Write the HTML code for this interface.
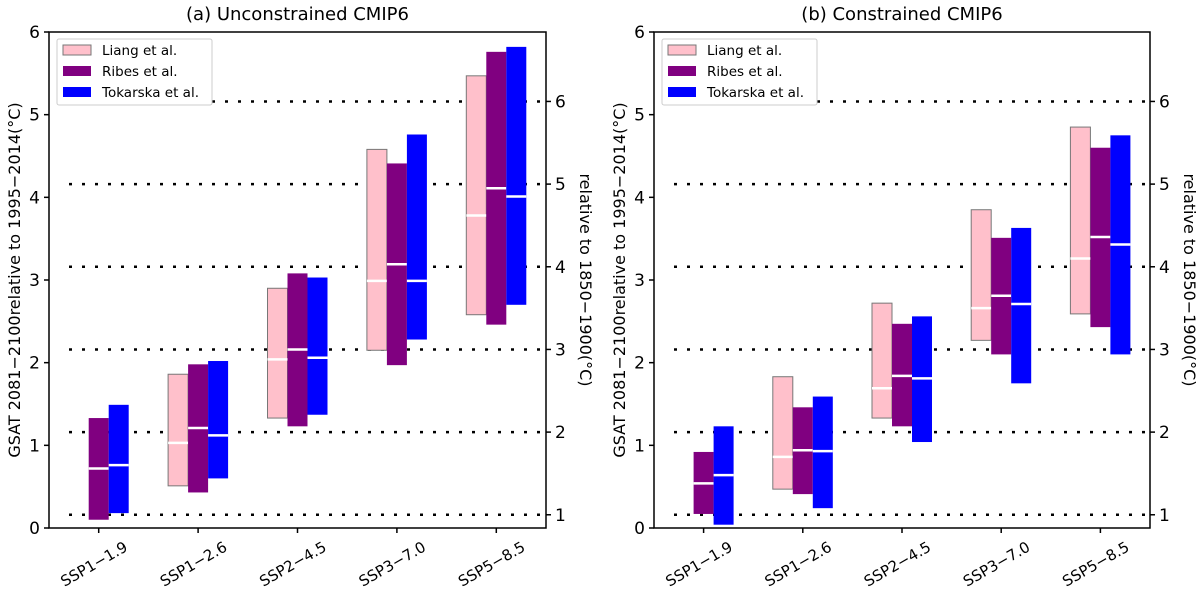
<!DOCTYPE html>
<html><head><meta charset="utf-8"><style>
body{margin:0;background:#fff;}
svg{display:block;font-family:"DejaVu Sans","Liberation Sans",sans-serif;}
</style></head><body>
<svg id="chart" width="1200" height="594" viewBox="0 0 1200 594" xmlns="http://www.w3.org/2000/svg"></svg>
<script>
const categories = ["SSP1\u22121.9","SSP1\u22122.6","SSP2\u22124.5","SSP3\u22127.0","SSP5\u22128.5"];
const seriesNames = ["Liang et al.","Ribes et al.","Tokarska et al."];
const seriesColors = ["#ffc0cb","#800080","#0000ff"];
const yTicks = [0,1,2,3,4,5,6];
const rightTicks = [1,2,3,4,5,6];
const rightOffset = 0.84;
// Panel A (unconstrained): [low, high, median]; null = missing
const aLiang = [null,[0.51,1.86,1.03],[1.33,2.90,2.04],[2.15,4.58,2.99],[2.58,5.47,3.78]];
const aRibes = [[0.10,1.33,0.72],[0.43,1.98,1.21],[1.23,3.08,2.16],[1.97,4.41,3.19],[2.46,5.76,4.11]];
const aTok   = [[0.18,1.49,0.76],[0.60,2.02,1.12],[1.37,3.03,2.06],[2.28,4.76,2.99],[2.70,5.82,4.01]];
// Panel B (constrained)
const bLiang = [null,[0.47,1.83,0.86],[1.33,2.72,1.69],[2.27,3.85,2.66],[2.59,4.85,3.26]];
const bRibes = [[0.17,0.92,0.54],[0.41,1.46,0.94],[1.23,2.47,1.84],[2.10,3.51,2.81],[2.43,4.60,3.52]];
const bTok   = [[0.04,1.23,0.64],[0.24,1.59,0.93],[1.04,2.56,1.81],[1.75,3.63,2.71],[2.10,4.75,3.43]];

const svg = document.getElementById('chart');
const NS = "http://www.w3.org/2000/svg";
function mk(tag, attrs, parent, text){
  const e = document.createElementNS(NS, tag);
  for (const k in attrs) e.setAttribute(k, attrs[k]);
  if (text !== undefined) e.textContent = text;
  (parent||svg).appendChild(e);
  return e;
}
const Y0 = 528, Y6 = 32;
function yScale(v){ return Y0 - (v/6)*(Y0-Y6); }

function panel(id, title, x0, x1, data){
  const g = mk('g', {});
  
  
  const step = (x1-x0)/5;
  const xc = i => x0 + step*(i+0.5);
  const bw = 20;
  const t = mk('text', {x:(x0+x1)/2, y:20, 'text-anchor':'middle', 'font-size':18}, g, title);
  
  
  rightTicks.forEach(r => {
    const y = yScale(r - rightOffset);
    const l = mk('line', {x1:x0+20, x2:x1, y1:y, y2:y, stroke:'#000', 'stroke-width':2.5, 'stroke-dasharray':'3 10'}, g);
    
    
  });
  data.forEach((series, si) => {
    series.forEach((d, ci) => {
      if (!d) return;
      const cx = xc(ci) + (si-1)*bw;
      const r = mk('rect', {x:cx-bw/2, y:yScale(d[1]), width:bw, height:yScale(d[0])-yScale(d[1]), fill:seriesColors[si], stroke: si===0?'#777':'none', 'stroke-width':1}, g);
      
      
      const m = mk('line', {x1:cx-bw/2, x2:cx+bw/2, y1:yScale(d[2]), y2:yScale(d[2]), stroke:'#fff', 'stroke-width':2.5}, g);
      
      
    });
  });
  const f = mk('rect', {x:x0, y:Y6, width:x1-x0, height:Y0-Y6, fill:'none', stroke:'#000', 'stroke-width':1.5}, g);
  
  
  yTicks.forEach(v => {
    const y = yScale(v);
    mk('line', {x1:x0-5, x2:x0, y1:y, y2:y, stroke:'#000', 'stroke-width':1.5}, g);
    const tl = mk('text', {x:x0-9, y:y+6, 'text-anchor':'end', 'font-size':17}, g, String(v));
    
    
  });
  rightTicks.forEach(r => {
    const y = yScale(r - rightOffset);
    mk('line', {x1:x1, x2:x1+5, y1:y, y2:y, stroke:'#000', 'stroke-width':1.5}, g);
    const tl = mk('text', {x:x1+9, y:y+6, 'font-size':17}, g, String(r));
    
    
  });
  categories.forEach((c, i) => {
    const x = xc(i);
    mk('line', {x1:x, x2:x, y1:Y0, y2:Y0+5, stroke:'#000', 'stroke-width':1.5}, g);
    const ax = x+30, ay = Y0+22;
    const tl = mk('text', {x:ax, y:ay, 'text-anchor':'end', 'font-size':15, transform:`rotate(-30 ${ax} ${ay})`}, g, c);
    
    
  });
  const ly = 280;
  const yl = mk('text', {x:x0-29, y:ly, 'text-anchor':'middle', 'font-size':16, transform:`rotate(-90 ${x0-29} ${ly})`}, g, "GSAT 2081\u22122100relative to 1995\u22122014(\u00b0C)");
  
  
  const yr = mk('text', {x:x1+34, y:ly, 'text-anchor':'middle', 'font-size':16, transform:`rotate(90 ${x1+34} ${ly})`}, g, "relative to 1850\u22121900(\u00b0C)");
  
  
  const lg = mk('g', {}, g);
  
  
  mk('rect', {x:x0+8, y:39, width:155, height:66, fill:'#fff', stroke:'#ccc', 'stroke-width':1, rx:2}, lg);
  seriesNames.forEach((n, i) => {
    const yy = 50 + i*21;
    const sw = mk('rect', {x:x0+14, y:yy-5, width:28, height:10, fill:seriesColors[i], stroke:i===0?'#777':'none'}, lg);
    
    
    const lt = mk('text', {x:x0+53, y:yy+5, 'font-size':13.5}, lg, n);
    
    
  });
}
panel('panel-unconstrained', '(a) Unconstrained CMIP6', 49, 546, [aLiang, aRibes, aTok]);
panel('panel-constrained', '(b) Constrained CMIP6', 654, 1150, [bLiang, bRibes, bTok]);
</script>
</body></html>
